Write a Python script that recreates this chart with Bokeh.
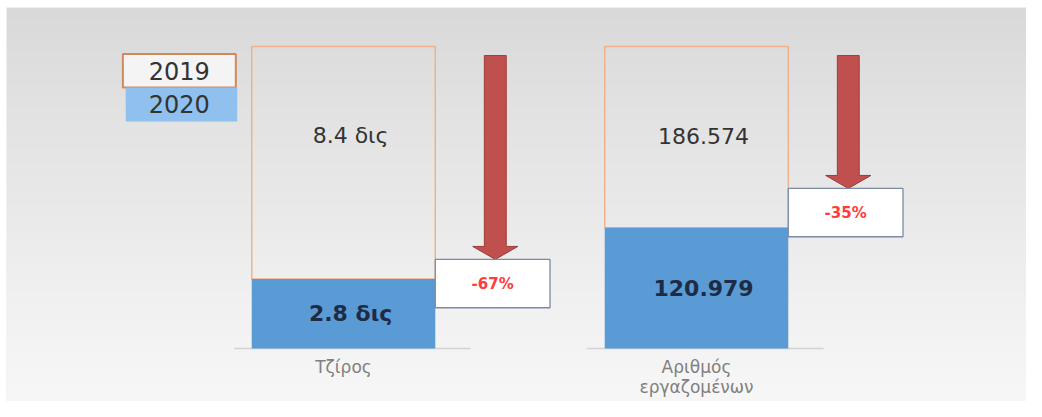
import numpy as np
from bokeh.plotting import figure
from bokeh.models import Range1d
from bokeh.core.properties import value
from bokeh.embed import file_html
from bokeh.resources import INLINE

# ---------------- data ----------------
categories = ["Τζίρος", "Αριθμός\nεργαζομένων"]
years = ["2019", "2020"]
values_2019 = [8.4, 186574]
values_2020 = [2.8, 120979]
labels_2019 = ["8.4 δις", "186.574"]
labels_2020 = ["2.8 δις", "120.979"]
# bar heights as drawn in the picture (2019 bar = 1, the chart is not to scale)
drawn_2019 = [1.0, 1.0]
drawn_2020 = [0.23, 0.40]

change_labels = [f"{round((b - a) / a * 100)}%" for a, b in zip(values_2019, values_2020)]

# ---------------- layout ----------------
W, H = 1026, 401
BL, BT = 6, 7                  # white border left / top
UX, UY = 353.0, 302.0          # pixels per data unit
X0, Y0 = 343.0, 348.0          # pixel position of first category / baseline
XS, XE = (BL - X0) / UX, (W - X0) / UX
YS, YE = (Y0 - H) / UY, (Y0 - BT) / UY

FONT = value("DejaVu Sans")
xs = np.arange(len(categories), dtype=float)
BAR_W = 0.52
box_top = [0.295, 0.53]
BOX_H = 0.16
ARROW_TOP = 0.97

p = figure(width=W, height=H, x_range=Range1d(XS, XE), y_range=Range1d(YS, YE),
           output_backend="svg", toolbar_location=None, min_border=0,
           min_border_left=BL, min_border_top=BT,
           x_axis_location=None, y_axis_location=None)
p.grid.visible = False
p.outline_line_color = None
p.background_fill_color = "#e9e9e9"
p.border_fill_color = "white"

# background gradient
n = H - BT
t = np.linspace(1, 0, n)
g = np.interp(t, [0, .25, .5, .75, 1], [217, 226, 233, 241, 247]).astype(np.uint8)
img = np.empty((n, 1), dtype=np.uint32)
view = img.view(dtype=np.uint8).reshape((n, 1, 4))
view[:, 0, 0] = g
view[:, 0, 1] = g
view[:, 0, 2] = g
view[:, 0, 3] = 255
p.image_rgba(image=[img], x=XS, y=YS, dw=XE - XS, dh=YE - YS)

# faint baselines
p.segment(x0=xs - 0.31, x1=xs + 0.36, y0=[0] * len(xs), y1=[0] * len(xs),
          line_color="#d3d3d3", line_width=1.5)

# bars
p.vbar(x=xs, width=BAR_W, bottom=drawn_2020, top=drawn_2019,
       fill_color=None, line_color="#efb18a", line_width=1.5)
p.vbar(x=xs, width=BAR_W, bottom=0, top=drawn_2020,
       fill_color="#5b9bd5", line_color=None)

# value labels
p.text(x=xs + 0.02, y=[0.705] * len(xs), text=labels_2019, text_font=FONT,
       text_font_size="22px", text_color="#333333", text_align="center",
       text_baseline="middle")
p.text(x=xs + 0.02, y=[h / 2 for h in drawn_2020], text=labels_2020, text_font=FONT,
       text_font_size="22px", text_font_style="bold", text_color="#1e2b45",
       text_align="center", text_baseline="middle")

# category labels
p.text(x=xs, y=[-0.028] * len(xs), text=categories, text_font=FONT,
       text_font_size="17px", text_color="#808080", text_align="center",
       text_baseline="top", text_line_height=1.0)

# arrows
ax = xs + 0.43
SW, HW, HL = 0.031, 0.064, 0.043
axs, ays = [], []
for a, bt in zip(ax, box_top):
    hs = bt + HL
    axs.append([a - SW, a + SW, a + SW, a + HW, a, a - HW, a - SW])
    ays.append([ARROW_TOP, ARROW_TOP, hs, hs, bt, hs, hs])
p.patches(xs=axs, ys=ays, fill_color="#c0504d", line_color="#9e3b39", line_width=1)

# change boxes
p.quad(left=xs + 0.26, right=xs + 0.585, top=box_top,
       bottom=[b - BOX_H for b in box_top], fill_color="white",
       line_color="#7a8aa8", line_width=1.3)
p.text(x=xs + 0.4225, y=[b - BOX_H / 2 for b in box_top], text=change_labels,
       text_font=FONT, text_font_size="15px", text_font_style="bold",
       text_color="#ff3b3b", text_align="center", text_baseline="middle")

# legend
LL, LR = -0.625, -0.305
p.quad(left=[LL], right=[LR], top=[0.975], bottom=[0.864],
       fill_color="#f4f4f4", line_color="#d0895b", line_width=2)
p.quad(left=[LL + 0.008], right=[LR + 0.004], top=[0.864], bottom=[0.752],
       fill_color="#8fc0ee", line_color=None)
p.text(x=[(LL + LR) / 2] * 2, y=[0.92, 0.808], text=years, text_font=FONT,
       text_font_size="24px", text_color="#333333", text_align="center",
       text_baseline="middle")

open("out.html", "w").write(file_html(p, INLINE))
